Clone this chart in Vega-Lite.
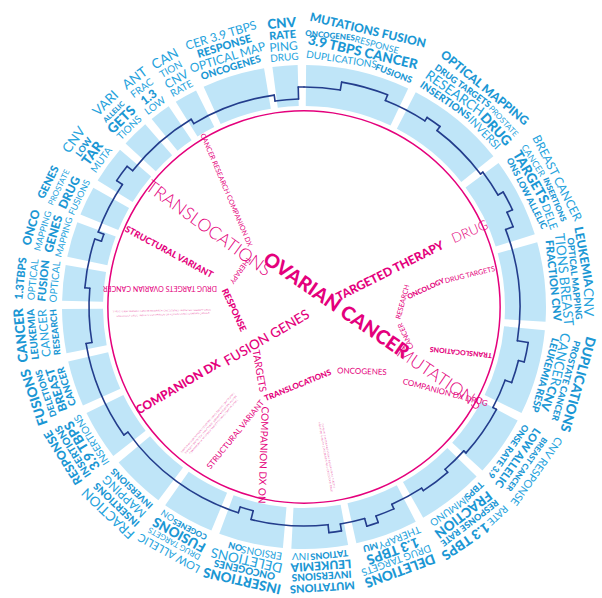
{
  "$schema": "https://vega.github.io/schema/vega-lite/v6.json",
  "width": 596,
  "height": 582,
  "padding": {"left": 6, "top": 16, "right": 0, "bottom": 0},
  "autosize": {"type": "none"},
  "background": "white",
  "config": {"view": {"stroke": null}},
  "datasets": {
    "seg": [
      {"a": 0.5, "b": 25.5}, {"a": 27.5, "b": 51.5}, {"a": 53.5, "b": 72.5}, {"a": 74.5, "b": 93.5},
      {"a": 95.5, "b": 116}, {"a": 118, "b": 132.5}, {"a": 134.5, "b": 150.5}, {"a": 152.5, "b": 167.5},
      {"a": 169.5, "b": 183}, {"a": 185, "b": 200.5}, {"a": 202.5, "b": 215}, {"a": 217, "b": 230},
      {"a": 232, "b": 244}, {"a": 246, "b": 257}, {"a": 259, "b": 269.5}, {"a": 271.5, "b": 280},
      {"a": 282, "b": 290.5}, {"a": 292.5, "b": 299.5}, {"a": 301.5, "b": 310.5}, {"a": 312.5, "b": 319},
      {"a": 321, "b": 326}, {"a": 328, "b": 333.5}, {"a": 335.5, "b": 350.5}, {"a": 352.5, "b": 358.5}
    ],
    "path": [
      {"a": 0, "b": 9.5, "r1": 220, "r2": 220}, {"a": 9.5, "b": 21.5, "r1": 228, "r2": 228},
      {"a": 21.5, "b": 33, "r1": 222, "r2": 222}, {"a": 33, "b": 37, "r1": 226, "r2": 226},
      {"a": 37, "b": 53, "r1": 221, "r2": 221}, {"a": 53, "b": 60, "r1": 224, "r2": 224},
      {"a": 60, "b": 65, "r1": 230, "r2": 230}, {"a": 65, "b": 69, "r1": 224, "r2": 224},
      {"a": 69, "b": 99, "r1": 216, "r2": 216}, {"a": 99, "b": 104, "r1": 227, "r2": 227},
      {"a": 104, "b": 110, "r1": 221, "r2": 221}, {"a": 110, "b": 118, "r1": 214, "r2": 214},
      {"a": 118, "b": 132, "r1": 218, "r2": 218}, {"a": 132, "b": 139, "r1": 215, "r2": 215},
      {"a": 139, "b": 147, "r1": 219, "r2": 219}, {"a": 147, "b": 156, "r1": 216, "r2": 216},
      {"a": 156, "b": 161, "r1": 221, "r2": 221}, {"a": 161, "b": 164, "r1": 228, "r2": 228},
      {"a": 164, "b": 170.5, "r1": 220, "r2": 220}, {"a": 170.5, "b": 173.7, "r1": 227, "r2": 227},
      {"a": 173.7, "b": 194, "r1": 219, "r2": 219}, {"a": 194, "b": 197.7, "r1": 210, "r2": 210},
      {"a": 197.7, "b": 234.6, "r1": 216, "r2": 216}, {"a": 234.6, "b": 260.5, "r1": 221, "r2": 221},
      {"a": 260.5, "b": 275, "r1": 215, "r2": 215}, {"a": 275, "b": 288, "r1": 220, "r2": 220},
      {"a": 288, "b": 290, "r1": 213, "r2": 213}, {"a": 290, "b": 304, "r1": 219, "r2": 219},
      {"a": 304, "b": 308.5, "r1": 226, "r2": 226}, {"a": 308.5, "b": 329, "r1": 219, "r2": 219},
      {"a": 329, "b": 352, "r1": 214, "r2": 214}, {"a": 352, "b": 358.5, "r1": 208, "r2": 208},
      {"a": 358.5, "b": 360, "r1": 220, "r2": 220},
      {"a": 9.5, "b": 9.5, "r1": 220, "r2": 228}, {"a": 21.5, "b": 21.5, "r1": 222, "r2": 228},
      {"a": 33, "b": 33, "r1": 222, "r2": 226}, {"a": 37, "b": 37, "r1": 221, "r2": 226},
      {"a": 53, "b": 53, "r1": 221, "r2": 224}, {"a": 60, "b": 60, "r1": 224, "r2": 230},
      {"a": 65, "b": 65, "r1": 224, "r2": 230}, {"a": 69, "b": 69, "r1": 216, "r2": 224},
      {"a": 99, "b": 99, "r1": 216, "r2": 227}, {"a": 104, "b": 104, "r1": 221, "r2": 227},
      {"a": 110, "b": 110, "r1": 214, "r2": 221}, {"a": 118, "b": 118, "r1": 214, "r2": 218},
      {"a": 132, "b": 132, "r1": 215, "r2": 218}, {"a": 139, "b": 139, "r1": 215, "r2": 219},
      {"a": 147, "b": 147, "r1": 216, "r2": 219}, {"a": 156, "b": 156, "r1": 216, "r2": 221},
      {"a": 161, "b": 161, "r1": 221, "r2": 228}, {"a": 164, "b": 164, "r1": 220, "r2": 228},
      {"a": 170.5, "b": 170.5, "r1": 220, "r2": 227}, {"a": 173.7, "b": 173.7, "r1": 219, "r2": 227},
      {"a": 194, "b": 194, "r1": 210, "r2": 219}, {"a": 197.7, "b": 197.7, "r1": 210, "r2": 216},
      {"a": 234.6, "b": 234.6, "r1": 216, "r2": 221}, {"a": 260.5, "b": 260.5, "r1": 215, "r2": 221},
      {"a": 275, "b": 275, "r1": 215, "r2": 220}, {"a": 288, "b": 288, "r1": 213, "r2": 220},
      {"a": 290, "b": 290, "r1": 213, "r2": 219}, {"a": 304, "b": 304, "r1": 219, "r2": 226},
      {"a": 308.5, "b": 308.5, "r1": 219, "r2": 226}, {"a": 329, "b": 329, "r1": 214, "r2": 219},
      {"a": 352, "b": 352, "r1": 208, "r2": 214}, {"a": 358.5, "b": 358.5, "r1": 208, "r2": 220}
    ],
    "lab": [
      {"t": 355.5, "r": 284, "s": "CNV", "w": "b", "k": 7},
      {"t": 355.5, "r": 272, "s": "RATE", "w": "b", "k": 5},
      {"t": 355.5, "r": 261, "s": "PING", "w": "l", "k": 6},
      {"t": 355.5, "r": 250, "s": "DRUG", "w": "l", "k": 4},
      {"t": 13, "r": 284, "s": "MUTATIONS FUSION", "w": "b", "k": 6},
      {"t": 5.5, "r": 272, "s": "ONCOGENES", "w": "b", "k": 2},
      {"t": 15.5, "r": 272, "s": "RESPONSE", "w": "l", "k": 3},
      {"t": 13, "r": 261, "s": "3.9 TBPS CANCER", "w": "b", "k": 7},
      {"t": 8.6, "r": 250, "s": "DUPLICATIONS", "w": "l", "k": 4},
      {"t": 21, "r": 250, "s": "FUSIONS", "w": "b", "k": 3},
      {"t": 39.5, "r": 284, "s": "OPTICAL MAPPING", "w": "b", "k": 6},
      {"t": 35.7, "r": 272, "s": "DRUG TARGETS", "w": "b", "k": 3},
      {"t": 47, "r": 272, "s": "PROSTATE", "w": "l", "k": 2},
      {"t": 35.2, "r": 261, "s": "RESEARCH", "w": "l", "k": 7},
      {"t": 47.2, "r": 261, "s": "DRUG", "w": "b", "k": 7},
      {"t": 34.4, "r": 250, "s": "INSERTIONS", "w": "b", "k": 4},
      {"t": 46, "r": 250, "s": "INVERSI", "w": "l", "k": 5},
      {"t": 63, "r": 284, "s": "BREAST CANCER", "w": "l", "k": 6},
      {"t": 57.4, "r": 272, "s": "CANCER", "w": "l", "k": 3},
      {"t": 66.8, "r": 272, "s": "INSERTIONS", "w": "b", "k": 2},
      {"t": 60.2, "r": 261, "s": "TARGETS", "w": "b", "k": 7},
      {"t": 69.8, "r": 261, "s": "DELE", "w": "l", "k": 5},
      {"t": 63, "r": 250, "s": "ONS LOW ALLELIC", "w": "b", "k": 3},
      {"t": 79.8, "r": 284, "s": "LEUKEMIA", "w": "b", "k": 6},
      {"t": 89, "r": 284, "s": "CNV", "w": "l", "k": 7},
      {"t": 84, "r": 272, "s": "OPTICAL MAPPING", "w": "b", "k": 3},
      {"t": 84, "r": 261, "s": "TIONS BREAST", "w": "l", "k": 7},
      {"t": 84, "r": 250, "s": "FRACTION CNV", "w": "b", "k": 5},
      {"t": 105.75, "r": 284, "s": "DUPLICATIONS", "w": "b", "k": 7},
      {"t": 105.75, "r": 272, "s": "PROSTATE CANCER", "w": "b", "k": 3},
      {"t": 101.6, "r": 261, "s": "CANCER", "w": "l", "k": 7},
      {"t": 110.5, "r": 261, "s": "CNV", "w": "b", "k": 6},
      {"t": 105.75, "r": 250, "s": "LEUKEMIA RESP", "w": "b", "k": 4},
      {"t": 125.25, "r": 284, "s": "CNV RESPONSE", "w": "l", "k": 5},
      {"t": 125.25, "r": 272, "s": "BREAST CANCER", "w": "b", "k": 2},
      {"t": 125.25, "r": 261, "s": "LOW ALLELIC", "w": "b", "k": 5},
      {"t": 125.25, "r": 250, "s": "ONSE RATE 3.9", "w": "b", "k": 3},
      {"t": 137.1, "r": 284, "s": "RATE", "w": "l", "k": 4},
      {"t": 145.4, "r": 284, "s": "1.3 TBPS", "w": "b", "k": 7},
      {"t": 142.5, "r": 272, "s": "RESPONSE RATE", "w": "b", "k": 3},
      {"t": 142.5, "r": 261, "s": "FRACTION", "w": "b", "k": 7},
      {"t": 137.2, "r": 250, "s": "TBPS", "w": "b", "k": 3},
      {"t": 144.6, "r": 250, "s": "IMMUNO", "w": "l", "k": 4},
      {"t": 160, "r": 280, "s": "DELETIONS", "w": "b", "k": 7},
      {"t": 160, "r": 269, "s": "DRUG TARGETS", "w": "l", "k": 4},
      {"t": 160, "r": 259, "s": "1.3 TBPS", "w": "b", "k": 7},
      {"t": 157.5, "r": 249, "s": "THERAPY", "w": "l", "k": 4},
      {"t": 164.5, "r": 249, "s": "MU", "w": "b", "k": 3},
      {"t": 176.25, "r": 280, "s": "MUTATIONS", "w": "b", "k": 5},
      {"t": 176.25, "r": 269, "s": "INVERSIONS", "w": "b", "k": 4},
      {"t": 176.25, "r": 259, "s": "LEUKEMIA", "w": "b", "k": 6},
      {"t": 174.2, "r": 249, "s": "TATIONS", "w": "b", "k": 3},
      {"t": 180.8, "r": 249, "s": "INV", "w": "l", "k": 4},
      {"t": 192.75, "r": 280, "s": "INSERTIONS", "w": "b", "k": 7},
      {"t": 192.75, "r": 269, "s": "ONCOGENES", "w": "b", "k": 4},
      {"t": 192.75, "r": 259, "s": "DELETIONS", "w": "l", "k": 7},
      {"t": 189.8, "r": 249, "s": "ERSIONS", "w": "l", "k": 4},
      {"t": 196, "r": 249, "s": "ON", "w": "b", "k": 3},
      {"t": 208.75, "r": 280, "s": "LOW ALLELIC", "w": "l", "k": 5},
      {"t": 208.75, "r": 269, "s": "DRUG TARGETS", "w": "l", "k": 2},
      {"t": 208.75, "r": 259, "s": "FUSIONS", "w": "b", "k": 7},
      {"t": 207.2, "r": 249, "s": "COGENES", "w": "b", "k": 2},
      {"t": 213.2, "r": 249, "s": "ON", "w": "l", "k": 3},
      {"t": 223.5, "r": 284, "s": "FRACTION", "w": "l", "k": 7},
      {"t": 223.5, "r": 272, "s": "INSERTIONS", "w": "b", "k": 4},
      {"t": 223.5, "r": 261, "s": "MAPPING", "w": "l", "k": 6},
      {"t": 223.5, "r": 250, "s": "INVERSIONS", "w": "b", "k": 3},
      {"t": 238, "r": 284, "s": "RESPONSE", "w": "b", "k": 6},
      {"t": 238, "r": 272, "s": "INSERTIONS", "w": "b", "k": 4},
      {"t": 238, "r": 261, "s": "3.9 TBPS", "w": "b", "k": 7},
      {"t": 238, "r": 250, "s": "INSERTIONS", "w": "l", "k": 4},
      {"t": 251.5, "r": 284, "s": "FUSIONS", "w": "b", "k": 7},
      {"t": 251.5, "r": 272, "s": "DELETIONS", "w": "b", "k": 3},
      {"t": 251.5, "r": 261, "s": "BREAST", "w": "b", "k": 6},
      {"t": 251.5, "r": 250, "s": "CANCER", "w": "b", "k": 4},
      {"t": 264.25, "r": 284, "s": "CANCER", "w": "b", "k": 7},
      {"t": 264.25, "r": 272, "s": "LEUKEMIA", "w": "b", "k": 4},
      {"t": 264.25, "r": 261, "s": "CANCER", "w": "l", "k": 6},
      {"t": 264.25, "r": 250, "s": "RESEARCH", "w": "b", "k": 3},
      {"t": 275.75, "r": 284, "s": "1.3TBPS", "w": "b", "k": 5},
      {"t": 275.75, "r": 272, "s": "OPTICAL", "w": "l", "k": 4},
      {"t": 275.75, "r": 261, "s": "FUSION", "w": "b", "k": 5},
      {"t": 275.75, "r": 250, "s": "OPTICAL", "w": "l", "k": 4},
      {"t": 286.25, "r": 284, "s": "ONCO", "w": "b", "k": 6},
      {"t": 286.25, "r": 272, "s": "MAPPING", "w": "l", "k": 3},
      {"t": 286.25, "r": 261, "s": "GENES", "w": "b", "k": 6},
      {"t": 286.25, "r": 250, "s": "MAPPING", "w": "l", "k": 3},
      {"t": 296, "r": 284, "s": "GENES", "w": "b", "k": 5},
      {"t": 296, "r": 272, "s": "PROSTATE", "w": "l", "k": 2},
      {"t": 296, "r": 261, "s": "DRUG", "w": "b", "k": 6},
      {"t": 296, "r": 250, "s": "FUSIONS", "w": "l", "k": 3},
      {"t": 306, "r": 284, "s": "CNV", "w": "l", "k": 7},
      {"t": 306, "r": 272, "s": "LOW", "w": "b", "k": 3},
      {"t": 306, "r": 261, "s": "TAR", "w": "b", "k": 7},
      {"t": 306, "r": 250, "s": "MUTA", "w": "l", "k": 4},
      {"t": 315.75, "r": 284, "s": "VARI", "w": "l", "k": 7},
      {"t": 315.75, "r": 272, "s": "ALLELIC", "w": "b", "k": 1},
      {"t": 315.75, "r": 261, "s": "GETS", "w": "b", "k": 7},
      {"t": 315.75, "r": 250, "s": "TIONS", "w": "l", "k": 4},
      {"t": 323.5, "r": 284, "s": "ANT", "w": "l", "k": 7},
      {"t": 323.5, "r": 272, "s": "FRAC", "w": "l", "k": 4},
      {"t": 323.5, "r": 261, "s": "1.3", "w": "b", "k": 6},
      {"t": 323.5, "r": 250, "s": "LOW", "w": "l", "k": 4},
      {"t": 330.75, "r": 284, "s": "CAN", "w": "l", "k": 7},
      {"t": 330.75, "r": 272, "s": "TION", "w": "l", "k": 4},
      {"t": 330.75, "r": 261, "s": "CNV", "w": "l", "k": 6},
      {"t": 330.75, "r": 250, "s": "RATE", "w": "l", "k": 4},
      {"t": 343, "r": 284, "s": "CER 3.9 TBPS", "w": "l", "k": 6},
      {"t": 343, "r": 272, "s": "RESPONSE", "w": "b", "k": 5},
      {"t": 343, "r": 261, "s": "OPTICAL MAP", "w": "l", "k": 6},
      {"t": 343, "r": 250, "s": "ONCOGENES", "w": "b", "k": 4}
    ],
    "inner": [
      {"s": "TRANSLOCATIONS", "t": 309.1, "r": 123.7, "rot": 36, "k": 9, "w": "l"},
      {"s": "OVARIAN CANCER", "t": 88, "r": 32, "rot": 34.5, "k": 10, "w": "b"},
      {"s": "MUTATIONS", "t": 117.9, "r": 153, "rot": 34, "k": 9, "w": "l"},
      {"s": "COMPANION DX", "t": 237.6, "r": 149.3, "rot": 329.5, "k": 6, "w": "b"},
      {"s": "FUSION GENES", "t": 230, "r": 48.3, "rot": 329.5, "k": 7, "w": "m"},
      {"s": "TARGETED THERAPY", "t": 67.3, "r": 93.2, "rot": 333.4, "k": 6, "w": "b"},
      {"s": "DRUG", "t": 65.7, "r": 182.2, "rot": 337, "k": 7, "w": "l"},
      {"s": "STRUCTURAL VARIANT", "t": 292.2, "r": 145.8, "rot": 28.5, "k": 3, "w": "b"},
      {"s": "RESPONSE", "t": 267.5, "r": 70.1, "rot": 65, "k": 3, "w": "b"},
      {"s": "CANCER RESEARCH COMPANION DX", "t": 326.3, "r": 140.6, "rot": 67, "k": 1, "w": "r"},
      {"s": "THERAPY", "t": 300, "r": 73.9, "rot": 125, "k": 1, "w": "r"},
      {"s": "DRUG TARGETS OVARIAN CANCER", "t": 277.5, "r": 145.2, "rot": 180, "k": 1, "w": "r"},
      {"s": "ONCOLOGY", "t": 81.6, "r": 123.3, "rot": 335, "k": 1, "w": "b"},
      {"s": "DRUG TARGETS", "t": 79.1, "r": 169, "rot": 346, "k": 1, "w": "r"},
      {"s": "RESEARCH", "t": 87.1, "r": 99.1, "rot": 285, "k": 1, "w": "r"},
      {"s": "CANCER", "t": 105.9, "r": 106, "rot": 245, "k": 1, "w": "r"},
      {"s": "TRANSLOCATIONS", "t": 106, "r": 163.3, "rot": 186, "k": 1, "w": "b"},
      {"s": "STRUCTURAL VARIANT", "t": 208, "r": 144.9, "rot": 309, "k": 2, "w": "r"},
      {"s": "TRANSLOCATIONS", "t": 184.3, "r": 79.2, "rot": 338, "k": 2, "w": "b"},
      {"s": "ONCOGENES", "t": 138.3, "r": 87.1, "rot": 2, "k": 2, "w": "r"},
      {"s": "COMPANION DX DRUG", "t": 121.4, "r": 165.2, "rot": 15, "k": 2, "w": "r"},
      {"s": "TARGETS", "t": 215.1, "r": 78.2, "rot": 80, "k": 4, "w": "r"},
      {"s": "COMPANION DX ON", "t": 195.5, "r": 153.6, "rot": 92, "k": 4, "w": "r"},
      {"s": "STRUCTURAL VARIANT CANCER RESEARCH ONCOGENES TARGETED THERAPY DRUG", "t": 268.4, "r": 142.1, "rot": 359, "k": 0, "w": "l"},
      {"s": "ONCOLOGY DRUG TARGETS COMPANION DX FUSION GENES OVARIAN CANCER", "t": 266.8, "r": 141.2, "rot": 358, "k": 0, "w": "l"},
      {"s": "CANCER RESEARCH TRANSLOCATIONS DRUG TARGETS ONCOGENES", "t": 219.6, "r": 150.6, "rot": 311.5, "k": 0, "w": "l"},
      {"s": "THERAPY ONCOLOGY STRUCTURAL VARIANT MUTATIONS FUSION", "t": 218.2, "r": 150.2, "rot": 311.5, "k": 0, "w": "l"},
      {"s": "COMPANION DX RESPONSE TARGETED DRUG CANCER GENES", "t": 216.9, "r": 150, "rot": 311.5, "k": 0, "w": "l"},
      {"s": "TARGETED THERAPY CANCER RESEARCH ONCOGENES DRUG", "t": 172, "r": 151.5, "rot": 79.6, "k": 0, "w": "l"},
      {"s": "OVARIAN CANCER MUTATIONS FUSION GENES TARGETS", "t": 170.8, "r": 150.9, "rot": 79.6, "k": 0, "w": "l"}
    ]
  },
  "resolve": {"scale": {"size": "independent"}},
  "layer": [
    {
      "data": {"name": "seg"},
      "mark": {"type": "arc", "fill": "#bfe5f8"},
      "encoding": {
        "theta": {"field": "a", "type": "quantitative", "stack": null, "scale": {"domain": [0, 360], "range": [0, 6.283185307179586]}},
        "theta2": {"field": "b"},
        "radius": {"datum": 242, "type": "quantitative", "scale": {"type": "linear", "zero": true, "domain": [0, 291], "range": [0, 291]}},
        "radius2": {"datum": 201}
      }
    },
    {
      "data": {"values": [{"a": 0, "b": 360}]},
      "mark": {"type": "arc", "fill": "#e4007c"},
      "encoding": {
        "theta": {"field": "a", "type": "quantitative", "stack": null, "scale": {"domain": [0, 360], "range": [0, 6.283185307179586]}},
        "theta2": {"field": "b"},
        "radius": {"datum": 196.9, "type": "quantitative", "scale": {"type": "linear", "zero": true, "domain": [0, 291], "range": [0, 291]}},
        "radius2": {"datum": 195.4}
      }
    },
    {
      "data": {"name": "path"},
      "mark": {"type": "arc", "fill": null, "filled": false, "stroke": "#233d8c", "strokeWidth": 1.6, "strokeJoin": "round"},
      "encoding": {
        "theta": {"field": "a", "type": "quantitative", "stack": null, "scale": {"domain": [0, 360], "range": [0, 6.283185307179586]}},
        "theta2": {"field": "b"},
        "radius": {"field": "r1", "type": "quantitative", "scale": {"type": "linear", "zero": true, "domain": [0, 291], "range": [0, 291]}},
        "radius2": {"field": "r2"}
      }
    },
    {
      "data": {"name": "lab"},
      "transform": [{"filter": "datum.w == 'b'"}],
      "mark": {"type": "text", "font": "Lato", "fontWeight": 900, "align": "center", "baseline": "middle", "color": "#1b97d4"},
      "encoding": {
        "theta": {"field": "t", "type": "quantitative", "stack": null, "scale": {"domain": [0, 360], "range": [0, 6.283185307179586]}},
        "radius": {"field": "r", "type": "quantitative", "scale": {"type": "linear", "zero": true, "domain": [0, 291], "range": [0, 291]}},
        "angle": {"field": "t", "type": "quantitative", "scale": null},
        "size": {"field": "k", "type": "quantitative", "legend": null, "scale": {"type": "threshold", "domain": [0.5, 1.5, 2.5, 3.5, 4.5, 5.5, 6.5, 7.5, 8.5, 9.5], "range": [2.5, 7, 8, 9, 10, 11, 12, 13.5, 15, 17.5, 19.5]}},
        "text": {"field": "s"}
      }
    },
    {
      "data": {"name": "lab"},
      "transform": [{"filter": "datum.w == 'l'"}],
      "mark": {"type": "text", "font": "Lato", "fontWeight": 400, "align": "center", "baseline": "middle", "color": "#26a3dd"},
      "encoding": {
        "theta": {"field": "t", "type": "quantitative", "stack": null, "scale": {"domain": [0, 360], "range": [0, 6.283185307179586]}},
        "radius": {"field": "r", "type": "quantitative", "scale": {"type": "linear", "zero": true, "domain": [0, 291], "range": [0, 291]}},
        "angle": {"field": "t", "type": "quantitative", "scale": null},
        "size": {"field": "k", "type": "quantitative", "legend": null, "scale": {"type": "threshold", "domain": [0.5, 1.5, 2.5, 3.5, 4.5, 5.5, 6.5, 7.5, 8.5, 9.5], "range": [2.5, 7, 8, 9, 10, 11, 12, 13.5, 15, 17.5, 19.5]}},
        "text": {"field": "s"}
      }
    },
    {
      "data": {"name": "inner"},
      "transform": [{"filter": "datum.w == 'b'"}],
      "mark": {"type": "text", "font": "Lato", "fontWeight": 900, "align": "center", "baseline": "middle", "color": "#e4007c"},
      "encoding": {
        "theta": {"field": "t", "type": "quantitative", "stack": null, "scale": {"domain": [0, 360], "range": [0, 6.283185307179586]}},
        "radius": {"field": "r", "type": "quantitative", "scale": {"type": "linear", "zero": true, "domain": [0, 291], "range": [0, 291]}},
        "angle": {"field": "rot", "type": "quantitative", "scale": null},
        "size": {"field": "k", "type": "quantitative", "legend": null, "scale": {"type": "threshold", "domain": [0.5, 1.5, 2.5, 3.5, 4.5, 5.5, 6.5, 7.5, 8.5, 9.5], "range": [2.5, 7, 8, 9, 10, 11, 12, 13.5, 15, 17.5, 19.5]}},
        "text": {"field": "s"}
      }
    },
    {
      "data": {"name": "inner"},
      "transform": [{"filter": "datum.w == 'm'"}],
      "mark": {"type": "text", "font": "Lato", "fontWeight": 500, "align": "center", "baseline": "middle", "color": "#e4007c"},
      "encoding": {
        "theta": {"field": "t", "type": "quantitative", "stack": null, "scale": {"domain": [0, 360], "range": [0, 6.283185307179586]}},
        "radius": {"field": "r", "type": "quantitative", "scale": {"type": "linear", "zero": true, "domain": [0, 291], "range": [0, 291]}},
        "angle": {"field": "rot", "type": "quantitative", "scale": null},
        "size": {"field": "k", "type": "quantitative", "legend": null, "scale": {"type": "threshold", "domain": [0.5, 1.5, 2.5, 3.5, 4.5, 5.5, 6.5, 7.5, 8.5, 9.5], "range": [2.5, 7, 8, 9, 10, 11, 12, 13.5, 15, 17.5, 19.5]}},
        "text": {"field": "s"}
      }
    },
    {
      "data": {"name": "inner"},
      "transform": [{"filter": "datum.w == 'r'"}],
      "mark": {"type": "text", "font": "Lato", "fontWeight": 400, "align": "center", "baseline": "middle", "color": "#e4007c"},
      "encoding": {
        "theta": {"field": "t", "type": "quantitative", "stack": null, "scale": {"domain": [0, 360], "range": [0, 6.283185307179586]}},
        "radius": {"field": "r", "type": "quantitative", "scale": {"type": "linear", "zero": true, "domain": [0, 291], "range": [0, 291]}},
        "angle": {"field": "rot", "type": "quantitative", "scale": null},
        "size": {"field": "k", "type": "quantitative", "legend": null, "scale": {"type": "threshold", "domain": [0.5, 1.5, 2.5, 3.5, 4.5, 5.5, 6.5, 7.5, 8.5, 9.5], "range": [2.5, 7, 8, 9, 10, 11, 12, 13.5, 15, 17.5, 19.5]}},
        "text": {"field": "s"}
      }
    },
    {
      "data": {"name": "inner"},
      "transform": [{"filter": "datum.w == 'l'"}],
      "mark": {"type": "text", "font": "Lato", "fontWeight": 300, "align": "center", "baseline": "middle", "color": "#e4007c"},
      "encoding": {
        "theta": {"field": "t", "type": "quantitative", "stack": null, "scale": {"domain": [0, 360], "range": [0, 6.283185307179586]}},
        "radius": {"field": "r", "type": "quantitative", "scale": {"type": "linear", "zero": true, "domain": [0, 291], "range": [0, 291]}},
        "angle": {"field": "rot", "type": "quantitative", "scale": null},
        "size": {"field": "k", "type": "quantitative", "legend": null, "scale": {"type": "threshold", "domain": [0.5, 1.5, 2.5, 3.5, 4.5, 5.5, 6.5, 7.5, 8.5, 9.5], "range": [2.5, 7, 8, 9, 10, 11, 12, 13.5, 15, 17.5, 19.5]}},
        "text": {"field": "s"}
      }
    }
  ]
}
